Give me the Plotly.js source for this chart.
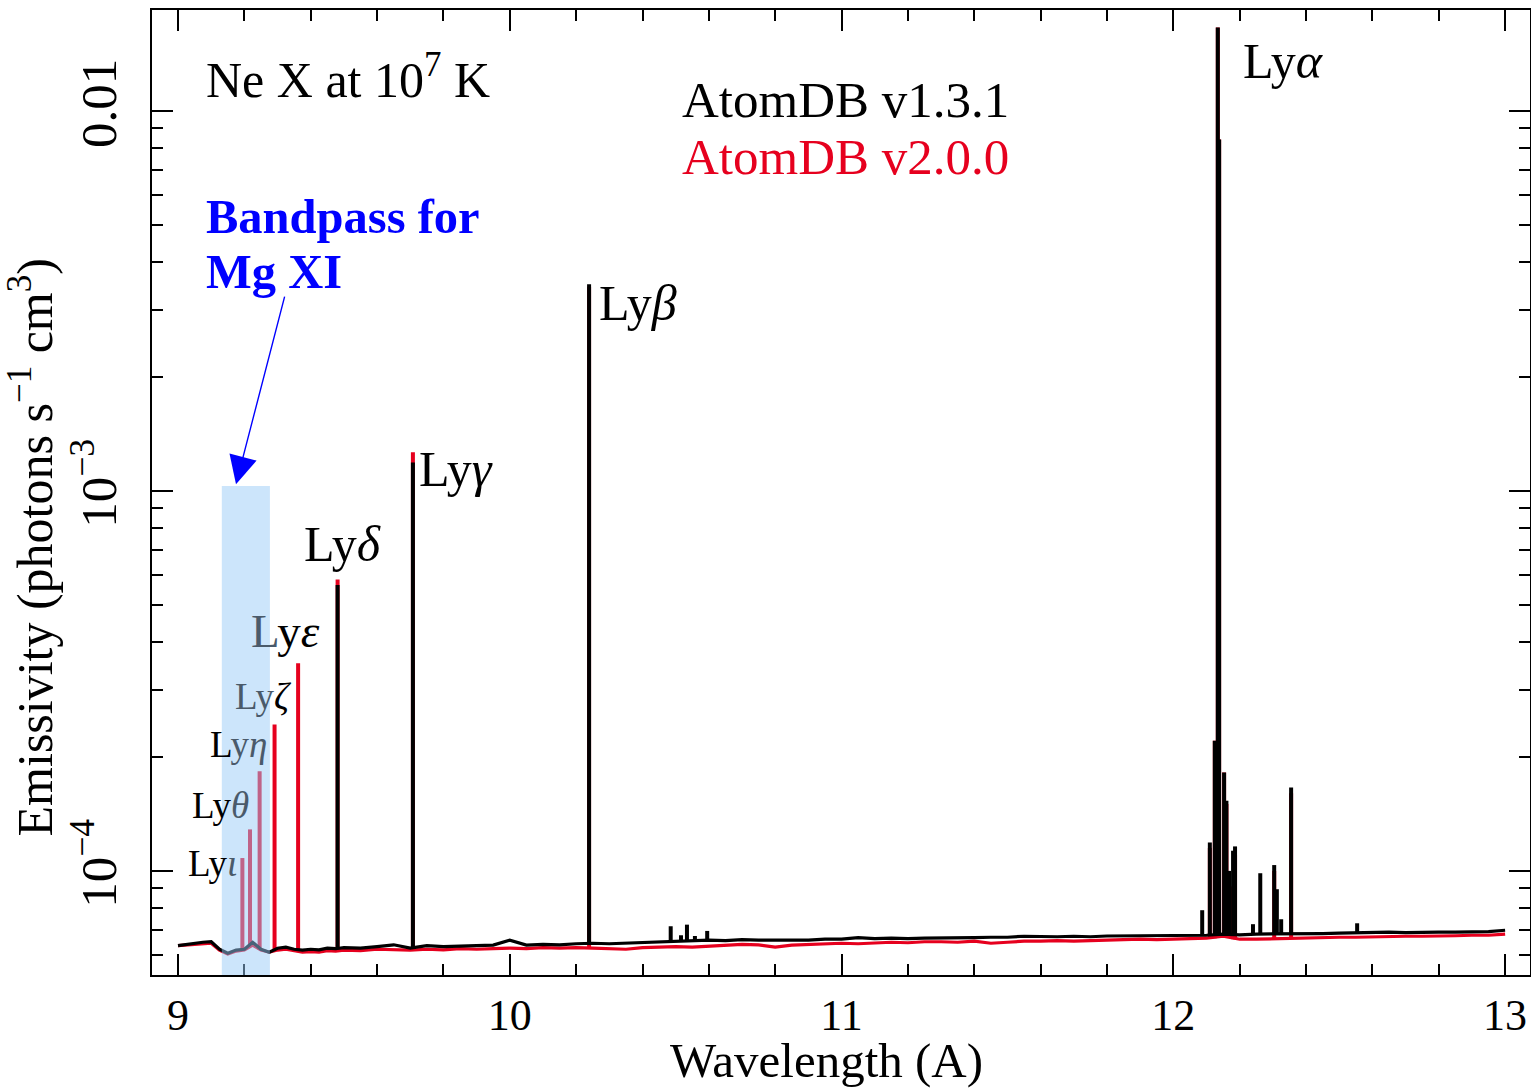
<!DOCTYPE html>
<html><head><meta charset="utf-8">
<script src="https://cdn.plot.ly/plotly-3.0.1.min.js"></script>
<style>html,body{margin:0;padding:0;background:#fff}</style>
</head><body><div id="chart" style="width:1531px;height:1090px"></div>
<script>
// Continuum wavelength grid (Angstrom)
const contWave = [9.000,9.025,9.050,9.075,9.100,9.125,9.150,9.175,9.200,9.225,9.250,9.275,9.300,9.325,9.350,9.375,9.400,9.425,9.450,9.475,9.500,
 9.55,9.60,9.65,9.70,9.75,9.80,9.85,9.90,9.95,10.00,10.05,10.10,10.15,10.20,10.25,10.30,10.35,10.40,10.45,10.50,
 10.55,10.60,10.65,10.70,10.75,10.80,10.85,10.90,10.95,11.00,11.05,11.10,11.15,11.20,11.25,11.30,11.35,11.40,11.45,11.50,
 11.55,11.60,11.65,11.70,11.75,11.80,11.85,11.90,11.95,12.00,12.05,12.10,12.15,12.20,12.25,12.30,12.35,12.40,12.45,12.50,
 12.55,12.60,12.65,12.70,12.75,12.80,12.85,12.90,12.95,13.00];
// AtomDB v1.3.1 continuum emissivity
const contV131 = [6.36e-5,6.41e-5,6.43e-5,6.49e-5,6.51e-5,6.22e-5,6.07e-5,6.19e-5,6.22e-5,6.49e-5,6.22e-5,6.11e-5,6.26e-5,6.30e-5,6.22e-5,6.19e-5,6.22e-5,6.20e-5,6.26e-5,6.24e-5,6.28e-5,
 6.26e-5,6.32e-5,6.39e-5,6.26e-5,6.36e-5,6.32e-5,6.34e-5,6.36e-5,6.38e-5,6.57e-5,6.38e-5,6.41e-5,6.39e-5,6.43e-5,6.45e-5,6.43e-5,6.45e-5,6.47e-5,6.51e-5,6.53e-5,
 6.55e-5,6.57e-5,6.55e-5,6.59e-5,6.57e-5,6.57e-5,6.59e-5,6.57e-5,6.61e-5,6.61e-5,6.67e-5,6.63e-5,6.65e-5,6.63e-5,6.65e-5,6.65e-5,6.67e-5,6.67e-5,6.69e-5,6.69e-5,
 6.73e-5,6.71e-5,6.71e-5,6.73e-5,6.71e-5,6.74e-5,6.75e-5,6.74e-5,6.77e-5,6.77e-5,6.77e-5,6.77e-5,6.82e-5,6.79e-5,6.82e-5,6.82e-5,6.82e-5,6.82e-5,6.84e-5,6.86e-5,
 6.88e-5,6.88e-5,6.90e-5,6.88e-5,6.90e-5,6.90e-5,6.90e-5,6.92e-5,6.92e-5,6.98e-5];
// AtomDB v2.0.0 continuum emissivity
const contV200 = [6.36e-5,6.39e-5,6.41e-5,6.45e-5,6.45e-5,6.19e-5,6.04e-5,6.15e-5,6.19e-5,6.38e-5,6.19e-5,6.11e-5,6.19e-5,6.22e-5,6.15e-5,6.11e-5,6.13e-5,6.11e-5,6.17e-5,6.15e-5,6.19e-5,
 6.17e-5,6.22e-5,6.20e-5,6.19e-5,6.22e-5,6.20e-5,6.24e-5,6.22e-5,6.24e-5,6.26e-5,6.24e-5,6.28e-5,6.26e-5,6.28e-5,6.26e-5,6.25e-5,6.22e-5,6.28e-5,6.30e-5,6.32e-5,
 6.30e-5,6.34e-5,6.38e-5,6.41e-5,6.39e-5,6.30e-5,6.38e-5,6.41e-5,6.43e-5,6.45e-5,6.43e-5,6.47e-5,6.49e-5,6.47e-5,6.51e-5,6.51e-5,6.49e-5,6.53e-5,6.45e-5,6.49e-5,
 6.53e-5,6.53e-5,6.55e-5,6.53e-5,6.55e-5,6.59e-5,6.59e-5,6.61e-5,6.59e-5,6.61e-5,6.63e-5,6.65e-5,6.73e-5,6.61e-5,6.61e-5,6.63e-5,6.65e-5,6.67e-5,6.67e-5,6.69e-5,
 6.69e-5,6.71e-5,6.71e-5,6.73e-5,6.73e-5,6.73e-5,6.75e-5,6.77e-5,6.77e-5,6.82e-5];
// Emission lines: wavelength and peak emissivity
const lineWaveV131 = [9.481,9.708,10.239,10.485,10.516,10.534,10.558,10.595,12.087,12.110,12.125,12.134,12.138,12.153,12.160,12.168,12.180,12.186,12.240,12.262,12.304,12.312,12.325,12.355,12.554];
const linePeakV131 = [5.66e-4,1.188e-3,3.50e-3,7.15e-5,6.77e-5,7.22e-5,6.74e-5,6.95e-5,7.88e-5,1.188e-4,2.20e-4,1.66e-2,8.42e-3,1.815e-4,1.53e-4,1.00e-4,1.13e-4,1.16e-4,7.24e-5,9.86e-5,1.036e-4,8.95e-5,7.46e-5,1.657e-4,7.28e-5];
const lineWaveV200 = [9.194,9.217,9.246,9.291,9.362,9.481,9.708,10.239,12.110,12.125,12.134,12.138,12.153,12.160,12.180,12.186,12.304,12.355];
const linePeakV200 = [1.081e-4,1.286e-4,1.83e-4,2.43e-4,3.52e-4,5.85e-4,1.264e-3,3.45e-3,1.15e-4,2.20e-4,1.66e-2,8.42e-3,1.815e-4,1.50e-4,9.1e-5,1.10e-4,1.00e-4,1.60e-4];
// Mg XI bandpass
const bandpassLo = 9.132, bandpassHi = 9.277, bandpassTop = 1.03e-3;
// Axis ticks
const xTicks = [9, 10, 11, 12, 13];
const yTicks = [1e-4, 1e-3, 1e-2];
const yTickText = ['10<sup>\u22124</sup>', '10<sup>\u22123</sup>', '0.01'];
const yMinorTicks = [6e-5,7e-5,8e-5,9e-5,2e-4,3e-4,4e-4,5e-4,6e-4,7e-4,8e-4,9e-4,2e-3,3e-3,4e-3,5e-3,6e-3,7e-3,8e-3,9e-3,2e-2];

const RED = '#e6001e', BLACK = '#000000';
const FONT = 'Liberation Serif, Times New Roman, serif';

function nearestBase(w, cont) {
  let best = 0;
  for (let i = 1; i < contWave.length; i++) {
    if (Math.abs(contWave[i] - w) < Math.abs(contWave[best] - w)) best = i;
  }
  return cont[best];
}
function spikes(waves, peaks, cont) {
  const x = [], y = [];
  waves.forEach((w, i) => { x.push(w, w, null); y.push(nearestBase(w, cont), peaks[i], null); });
  return {x, y};
}
const sRed = spikes(lineWaveV200, linePeakV200, contV200);
const sBlk = spikes(lineWaveV131, linePeakV131, contV131);

const traces = [
  {x: contWave, y: contV200, mode: 'lines', line: {color: RED, width: 3.2}, name: 'AtomDB v2.0.0'},
  {x: sRed.x, y: sRed.y, mode: 'lines', line: {color: RED, width: 4}, connectgaps: false, name: 'v2.0.0 lines'},
  {x: contWave, y: contV131, mode: 'lines', line: {color: BLACK, width: 3.2}, name: 'AtomDB v1.3.1'},
  {x: sBlk.x, y: sBlk.y, mode: 'lines', line: {color: BLACK, width: 4}, connectgaps: false, name: 'v1.3.1 lines'}
];

const GREY = '#4a5a6a';
function lab(x, y, text, size, color) {
  return {x: x, y: y, xref: 'x', yref: 'y', text: text, showarrow: false, xanchor: 'left', yanchor: 'middle',
          borderpad: 0, borderwidth: 0,
          font: {family: FONT, size: size, color: color || BLACK}};
}
const annotations = [
  lab(9.0844, -1.9087, 'Ne X at 10<sup>7</sup> K', 50),
  lab(10.520, -1.9718, 'AtomDB v1.3.1', 51),
  lab(10.520, -2.1218, 'AtomDB v2.0.0', 51, RED),
  lab(9.0844, -2.2776, '<b>Bandpass for</b>', 48.5, '#0000ff'),
  lab(9.0844, -2.4224, '<b>Mg XI</b>', 48.5, '#0000ff'),
  lab(12.210, -1.8692, 'Ly<i>\u03b1</i>', 50),
  lab(10.268, -2.506, 'Ly<i>\u03b2</i>', 50),
  lab(9.7255, -2.9429, 'Ly<i>\u03b3</i>', 50),
  lab(9.3790, -3.1403, 'Ly<i>\u03b4</i>', 50),
  lab(9.2200, -3.3692, '<span style="color:' + GREY + '">L</span>y<i>\u03b5</i>', 47),
  lab(9.1720, -3.5403, '<span style="color:' + GREY + '">Ly</span><i>\u03b6</i>', 37),
  lab(9.0965, -3.6666, 'L<span style="color:' + GREY + '">y<i>\u03b7</i></span>', 37),
  lab(9.0422, -3.8271, 'Ly<span style="color:' + GREY + '"><i>\u03b8</i></span>', 37),
  lab(9.0300, -3.9797, 'Ly<span style="color:' + GREY + '"><i>\u03b9</i></span>', 37),
  {x: 9.1748, y: -2.982, xref: 'x', yref: 'y', text: '', showarrow: true, ax: 49, ay: -189,
   arrowhead: 2, arrowsize: 4, arrowwidth: 1.4, arrowcolor: '#0000ff', standoff: 0},
  // axis titles
  {xref: 'paper', yref: 'paper', x: 0.4898, y: -0.0888, xanchor: 'center', yanchor: 'middle', showarrow: false,
   borderpad: 0, borderwidth: 0,
   text: 'Wavelength (A)', font: {family: FONT, size: 49, color: BLACK}},
  {xref: 'paper', yref: 'paper', x: -0.0875, y: 0.4435, xanchor: 'center', yanchor: 'middle', showarrow: false,
   textangle: -90, borderpad: 0, borderwidth: 0,
   text: 'Emissivity (photons s<sup>\u22121</sup> cm<sup>3</sup>)', font: {family: FONT, size: 50, color: BLACK}}
];

const layout = {
  width: 1531, height: 1090,
  margin: {l: 152, r: 1, t: 10, b: 115},
  paper_bgcolor: '#fff', plot_bgcolor: '#fff',
  showlegend: false,
  font: {family: FONT, color: BLACK},
  xaxis: {
    range: [8.9216, 13.075], tickmode: 'array', tickvals: xTicks,
    ticks: 'inside', ticklen: 21, tickwidth: 2, tickcolor: BLACK,
    minor: {dtick: 0.2, tick0: 9, ticks: 'inside', ticklen: 11, tickwidth: 2, tickcolor: BLACK},
    showline: true, linewidth: 2, linecolor: BLACK, mirror: 'ticks',
    showgrid: false, zeroline: false,
    tickfont: {family: FONT, size: 44, color: BLACK}, ticklabelstandoff: 0
  },
  yaxis: {
    type: 'log', range: [-4.274, -1.734], tickmode: 'array', tickvals: yTicks, ticktext: yTickText,
    tickangle: -90,
    ticks: 'inside', ticklen: 21, tickwidth: 2, tickcolor: BLACK,
    minor: {tickmode: 'array', tickvals: yMinorTicks, ticks: 'inside', ticklen: 11, tickwidth: 2, tickcolor: BLACK},
    showline: true, linewidth: 2, linecolor: BLACK, mirror: 'ticks',
    showgrid: false, zeroline: false,
    tickfont: {family: FONT, size: 51, color: BLACK}, ticklabelstandoff: 14
  },
  shapes: [
    {type: 'rect', xref: 'x', yref: 'y', x0: bandpassLo, x1: bandpassHi, y0: 1e-5, y1: bandpassTop,
     fillcolor: 'rgba(151,202,247,0.49)', line: {width: 0}, layer: 'above'}
  ],
  annotations: annotations
};

Plotly.newPlot('chart', traces, layout, {displayModeBar: false, staticPlot: true});
</script>
</body></html>
